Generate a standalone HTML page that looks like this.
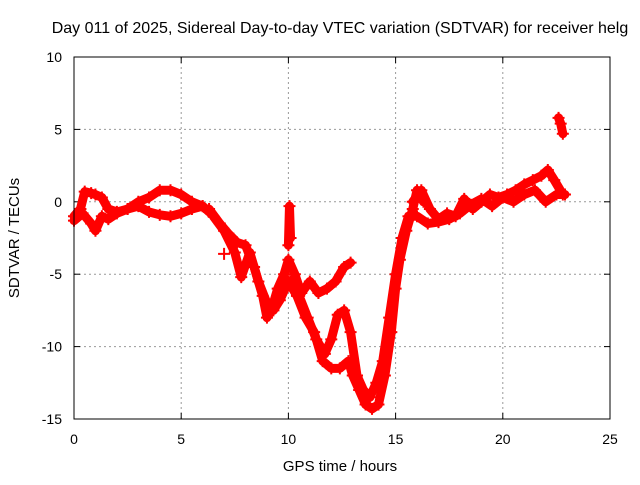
<!DOCTYPE html>
<html><head><meta charset="utf-8"><style>
body{margin:0;background:#fff}
svg text{font-family:"Liberation Sans",sans-serif;fill:#000}
</style></head><body>
<svg id="c" width="640" height="480" viewBox="0 0 640 480">
<text x="340" y="33" font-size="16" text-anchor="middle">Day 011 of 2025, Sidereal Day-to-day VTEC variation (SDTVAR) for receiver helg</text>
<text transform="translate(19,238) rotate(-90)" font-size="15" text-anchor="middle">SDTVAR / TECUs</text>
<text x="340" y="471" font-size="15" text-anchor="middle">GPS time / hours</text>
<g id="grid"></g><g id="ticks"></g><g id="data"></g>
<rect x="74" y="57" width="536" height="362" fill="none" stroke="#000" stroke-width="1"/>
</svg>
<script>
const xTicks=[0,5,10,15,20,25];
const yTicks=[10,5,0,-5,-10,-15];
const t1=[0,0.3,0.5,0.8,1.0,1.3,1.6,2.0,2.5,3.0,3.5,4.0,4.5,5.0,5.5,6.0,6.3];
const v1=[-1,-0.5,0.7,0.6,0.5,0.3,-0.5,-0.7,-0.5,0,0.3,0.8,0.8,0.5,0,-0.3,-0.7];
const t2=[0,0.4,0.8,1.0,1.3,1.6,2,2.5,3,3.5,4,4.5,5,5.5,6];
const v2=[-1.3,-0.8,-1.5,-2,-1,-1.2,-0.8,-0.5,-0.3,-0.7,-0.9,-1.0,-0.8,-0.5,-0.3];
const t3=[6.3,6.8,7.2,7.6,8.0,8.4,8.8,9.0,9.2,9.5,9.8,10.0,10.3,10.6,11,11.4,11.8,12.2,12.6,12.9];
const v3=[-0.5,-1.5,-2.2,-2.8,-3.0,-4.5,-6.5,-8,-7.5,-6,-5,-4,-5,-6.3,-5.5,-6.3,-6,-5.5,-4.5,-4.2];
const t4=[6.5,7.0,7.5,7.8,8.2,8.6,9.0,9.3,9.6,10,10.4,10.8,11.2,11.6,12,12.4,12.8,13.0,13.3,13.6,13.9,14.2,14.5,14.8,15,15.2,15.5,15.8,16,16.3];
const v4=[-1,-2,-3.5,-5.2,-3.5,-5.5,-7,-7.5,-6.8,-5.5,-6.5,-8,-9,-11,-11.5,-11.5,-11,-12,-13,-14,-14.3,-14,-12,-9,-6,-4,-2,-0.5,0.8,0];
const t5=[10.1,10.5,10.9,11.3,11.7,12.0,12.3,12.6,12.9,13.2,13.5,13.8,14.1,14.4,14.7,15.0,15.3,15.6,16.0,16.5,17,17.5,18,18.5,19,19.5,20,20.5,21,21.5,22,22.5,22.9];
const v5=[-5.5,-6.5,-8,-9.5,-10.5,-9.5,-7.8,-7.5,-9,-12,-13,-13.5,-12.5,-11,-8,-5,-2.5,-1,-1,-1.5,-1.4,-1.2,-0.8,-0.2,0.2,-0.3,0.3,0,0.5,0.8,0,0.5,0.5];
const t6=[15.8,16.2,16.6,17,17.4,17.8,18.2,18.6,19,19.4,19.8,20.2,20.6,21,21.4,21.8,22.1,22.4,22.8];
const v6=[0,0.8,-0.5,-1.2,-0.8,-1.0,0.2,-0.5,0,0.5,0.3,0.5,0.8,1.2,1.5,1.8,2.2,1.5,0.5];
const t7=[10.0,10.05,10.1];
const v7=[-3,-0.3,-2.5];
const t8=[22.6,22.7,22.8];
const v8=[5.8,5.4,4.7];
const t9=[7.0];
const v9=[-3.6];
const X=t=>74+t*536/25, Y=v=>57+(10-v)*362/25;
const NS='http://www.w3.org/2000/svg';
const g=document.getElementById('grid'),tk=document.getElementById('ticks'),d=document.getElementById('data');
function mk(tag,a,p){const e=document.createElementNS(NS,tag);for(const k in a)e.setAttribute(k,a[k]);p.appendChild(e);return e;}
xTicks.forEach(t=>{
 if(t>0&&t<25){const l=mk('line',{x1:X(t),x2:X(t),y1:57,y2:419,stroke:'#999','stroke-dasharray':'2,3'},g);
 
 }
 mk('line',{x1:X(t),x2:X(t),y1:419,y2:413,stroke:'#000'},tk);
 mk('line',{x1:X(t),x2:X(t),y1:57,y2:63,stroke:'#000'},tk);
 const s=mk('text',{x:X(t),y:444,'font-size':14,'text-anchor':'middle'},tk);s.textContent=t;
 
 
});
yTicks.forEach(v=>{
 if(v>-15&&v<10){const l=mk('line',{x1:74,x2:610,y1:Y(v),y2:Y(v),stroke:'#999','stroke-dasharray':'2,3'},g);
 
 }
 mk('line',{x1:74,x2:80,y1:Y(v),y2:Y(v),stroke:'#000'},tk);
 mk('line',{x1:610,x2:604,y1:Y(v),y2:Y(v),stroke:'#000'},tk);
 const s=mk('text',{x:62,y:Y(v)+5,'font-size':14,'text-anchor':'end'},tk);s.textContent=v;
 
 
});
[[t1,v1],[t2,v2],[t3,v3],[t4,v4],[t5,v5],[t6,v6],[t7,v7],[t8,v8],[t9,v9]].forEach(([ts,vs],i)=>{
 const pts=ts.map((t,j)=>X(t)+','+Y(vs[j])).join(' ');
 const pl=mk('polyline',{points:pts,fill:'none',stroke:'#f00','stroke-width':9,'stroke-linejoin':'round','stroke-linecap':'round'},d);
 
 
 ts.forEach((t,j)=>{
  const p=mk('path',{d:`M${X(t)-6},${Y(vs[j])}h12M${X(t)},${Y(vs[j])-6}v12`,stroke:'#f00','stroke-width':2},d);
  
  
 });
});
</script>
</body></html>
